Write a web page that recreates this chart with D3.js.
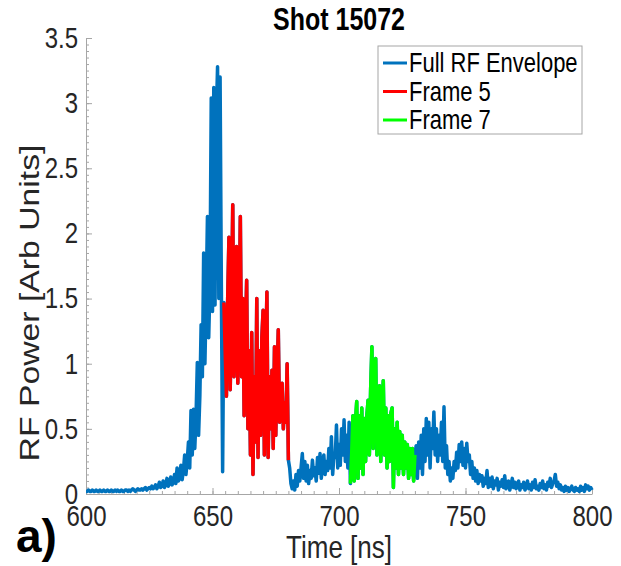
<!DOCTYPE html>
<html>
<head>
<meta charset="utf-8">
<script src="https://cdn.jsdelivr.net/npm/d3@7"></script>
<style>
  body { margin: 0; background: #fff; }
  text { font-family: "Liberation Sans", Arial, sans-serif; }
</style>
</head>
<body>
<div id="chart"></div>
<script>
// RF envelope, sampled every 0.5 ns from 600 ns
const timeStart = 600;
const timeStep = 0.5;
const power = [
  0.02, 0.02, 0.03, 0.02, 0.02, 0.03, 0.02, 0.02, 0.03, 0.02,
  0.02, 0.03, 0.02, 0.02, 0.03, 0.02, 0.02, 0.03, 0.02, 0.02,
  0.03, 0.02, 0.02, 0.03, 0.02, 0.03, 0.02, 0.02, 0.03, 0.02,
  0.02, 0.03, 0.03, 0.02, 0.03, 0.02, 0.03, 0.04, 0.03, 0.02,
  0.03, 0.04, 0.03, 0.03, 0.04, 0.03, 0.04, 0.05, 0.03, 0.04,
  0.05, 0.04, 0.06, 0.04, 0.05, 0.07, 0.04, 0.06, 0.09, 0.05,
  0.06, 0.10, 0.05, 0.07, 0.12, 0.06, 0.08, 0.13, 0.07, 0.09,
  0.15, 0.08, 0.20, 0.10, 0.12, 0.22, 0.11, 0.18, 0.30, 0.15,
  0.25, 0.40, 0.20, 0.64, 0.30, 0.65, 0.35, 0.60, 1.01, 0.45,
  0.75, 1.30, 0.90, 1.85, 1.00, 1.50, 2.13, 1.20, 1.60, 3.04,
  1.40, 3.12, 1.45, 2.90, 3.28, 1.50, 3.20, 1.60, 0.17, 1.47,
  1.10, 0.75, 1.50, 1.97, 0.80, 1.40, 2.22, 0.90, 1.20, 1.90,
  0.85, 1.30, 2.13, 0.90, 1.50, 0.60, 1.20, 1.64, 0.50, 1.10,
  0.30, 1.24, 0.15, 0.90, 0.40, 1.50, 0.28, 1.10, 0.45, 1.20,
  1.41, 0.30, 1.00, 1.55, 0.28, 0.90, 0.50, 0.95, 0.35, 1.13,
  0.45, 0.90, 1.26, 0.55, 0.60, 0.85, 0.50, 0.70, 0.55, 1.00,
  0.26, 0.20, 0.08, 0.04, 0.10, 0.03, 0.15, 0.06, 0.18, 0.10,
  0.20, 0.31, 0.12, 0.25, 0.10, 0.22, 0.08, 0.18, 0.12, 0.26,
  0.14, 0.20, 0.10, 0.28, 0.16, 0.31, 0.12, 0.22, 0.30, 0.15,
  0.25, 0.18, 0.35, 0.20, 0.44, 0.15, 0.30, 0.28, 0.53, 0.20,
  0.38, 0.22, 0.50, 0.30, 0.57, 0.25, 0.45, 0.20, 0.55, 0.08,
  0.30, 0.60, 0.10, 0.55, 0.71, 0.12, 0.60, 0.20, 0.66, 0.15,
  0.58, 0.25, 0.60, 0.72, 0.30, 0.80, 1.13, 0.35, 0.80, 1.04,
  0.30, 0.70, 0.83, 0.25, 0.60, 0.87, 0.30, 0.66, 0.20, 0.60,
  0.25, 0.62, 0.66, 0.05, 0.50, 0.20, 0.55, 0.15, 0.48, 0.20,
  0.45, 0.15, 0.40, 0.20, 0.38, 0.12, 0.35, 0.15, 0.35, 0.10,
  0.30, 0.37, 0.12, 0.40, 0.20, 0.45, 0.15, 0.50, 0.25, 0.58,
  0.30, 0.55, 0.20, 0.50, 0.35, 0.63, 0.30, 0.50, 0.25, 0.45,
  0.30, 0.55, 0.25, 0.67, 0.20, 0.37, 0.15, 0.25, 0.10, 0.20,
  0.12, 0.25, 0.18, 0.32, 0.20, 0.38, 0.25, 0.40, 0.22, 0.35,
  0.20, 0.39, 0.25, 0.30, 0.15, 0.25, 0.12, 0.20, 0.10, 0.18,
  0.08, 0.15, 0.10, 0.14, 0.06, 0.12, 0.08, 0.18, 0.05, 0.12,
  0.06, 0.13, 0.04, 0.10, 0.07, 0.12, 0.03, 0.09, 0.06, 0.11,
  0.05, 0.14, 0.04, 0.08, 0.10, 0.03, 0.07, 0.12, 0.05, 0.09,
  0.04, 0.08, 0.10, 0.03, 0.07, 0.05, 0.09, 0.03, 0.06, 0.10,
  0.04, 0.07, 0.03, 0.09, 0.05, 0.11, 0.04, 0.06, 0.03, 0.08,
  0.05, 0.10, 0.04, 0.07, 0.03, 0.09, 0.06, 0.12, 0.05, 0.08,
  0.10, 0.15, 0.06, 0.09, 0.04, 0.07, 0.03, 0.05, 0.02, 0.06,
  0.03, 0.05, 0.02, 0.04, 0.06, 0.03, 0.02, 0.05, 0.03, 0.04,
  0.02, 0.06, 0.03, 0.05, 0.02, 0.07, 0.04, 0.06, 0.03, 0.05,
  0.03
];

// camera frame windows [ns]
const frame5Window = [654.5, 680];
const frame7Window = [704.5, 730];

const seriesNames = ["Full RF Envelope", "Frame 5", "Frame 7"];
const seriesColors = ["#0072bd", "#ff0000", "#00ff00"];

const xTicks = [600, 650, 700, 750, 800];
const yTicks = [0, 0.5, 1, 1.5, 2, 2.5, 3, 3.5];

const width = 621,
  height = 566,
  margin = { top: 38, right: 29, bottom: 72, left: 86 };

// the source image is stretched vertically, so text is too
const stretch = 1.22;

const data = power.map((p, i) => ({ t: timeStart + i * timeStep, p: p }));

const x = d3.scaleLinear().domain([600, 800]).range([margin.left, width - margin.right]);
const y = d3.scaleLinear().domain([0, 3.5]).range([height - margin.bottom, margin.top]);

const svg = d3.select("#chart")
  .append("svg")
  .attr("width", width)
  .attr("height", height);

const axisColor = "#a6a6a6";
const textColor = "#262626";

// minor ticks
svg.append("g")
  .attr("transform", `translate(${margin.left},0)`)
  .call(d3.axisLeft(y).ticks(70).tickSizeInner(-3).tickSizeOuter(0).tickFormat(""))
  .call(g => g.select(".domain").remove())
  .call(g => g.selectAll("line").attr("stroke", axisColor));

svg.append("g")
  .attr("transform", `translate(0,${height - margin.bottom})`)
  .call(d3.axisBottom(x).ticks(40).tickSizeInner(-3).tickSizeOuter(0).tickFormat(""))
  .call(g => g.select(".domain").remove())
  .call(g => g.selectAll("line").attr("stroke", axisColor));

// major axes
const yAxis = svg.append("g")
  .attr("transform", `translate(${margin.left},0)`)
  .call(d3.axisLeft(y).tickValues(yTicks).tickFormat(d3.format("~g"))
    .tickSizeInner(-6).tickSizeOuter(0).tickPadding(8));

const xAxis = svg.append("g")
  .attr("transform", `translate(0,${height - margin.bottom})`)
  .call(d3.axisBottom(x).tickValues(xTicks).tickSizeInner(-6).tickSizeOuter(0).tickPadding(9));

[yAxis, xAxis].forEach(g => {
  g.select(".domain").attr("stroke", axisColor);
  g.selectAll("line").attr("stroke", axisColor);
  g.selectAll("text")
    .attr("fill", textColor)
    .attr("font-size", 24)
    .attr("font-family", "Liberation Sans, Arial, sans-serif")
    .attr("transform", `scale(1,${stretch})`);
});

// lines
const line = d3.line().x(d => x(d.t)).y(d => y(d.p));

svg.append("path")
  .datum(data)
  .attr("fill", "none")
  .attr("stroke", seriesColors[0])
  .attr("stroke-width", 3.5)
  .attr("stroke-linejoin", "round")
  .attr("d", line);

[frame5Window, frame7Window].forEach((w, i) => {
  svg.append("path")
    .datum(data.filter(d => d.t >= w[0] && d.t <= w[1]))
    .attr("fill", "none")
    .attr("stroke", seriesColors[i + 1])
    .attr("stroke-width", 3.5)
    .attr("stroke-linejoin", "round")
    .attr("d", line);
});

// title and axis labels
svg.append("text")
  .attr("transform", `translate(${(margin.left + width - margin.right) / 2},30) scale(1,${stretch})`)
  .attr("text-anchor", "middle")
  .attr("font-size", 25)
  .attr("font-weight", "bold")
  .attr("fill", "#000")
  .text("Shot 15072");

svg.append("text")
  .attr("transform", `translate(${(margin.left + width - margin.right) / 2},558) scale(1,${stretch})`)
  .attr("text-anchor", "middle")
  .attr("font-size", 26)
  .attr("fill", textColor)
  .text("Time [ns]");

svg.append("text")
  .attr("transform", `translate(39,303) rotate(-90) scale(${stretch + 0.03},1)`)
  .attr("text-anchor", "middle")
  .attr("font-size", 27)
  .attr("fill", textColor)
  .text("RF Power [Arb Units]");

svg.append("text")
  .attr("x", 16)
  .attr("y", 552)
  .attr("font-family", "Open Sans, sans-serif")
  .attr("font-size", 46)
  .attr("font-weight", "bold")
  .attr("fill", "#000")
  .text("a)");

// legend
const legend = svg.append("g").attr("transform", "translate(378,46)");
legend.append("rect")
  .attr("width", 204)
  .attr("height", 88)
  .attr("fill", "#fff")
  .attr("stroke", "#a6a6a6");

const rows = legend.selectAll("g.row")
  .data(seriesNames)
  .join("g")
  .attr("class", "row")
  .attr("transform", (d, i) => `translate(0,${17 + i * 28.5})`);

rows.append("line")
  .attr("x1", 5).attr("x2", 29)
  .attr("stroke", (d, i) => seriesColors[i])
  .attr("stroke-width", 3);

rows.append("text")
  .attr("x", 31)
  .attr("dy", "0.35em")
  .attr("font-size", 22)
  .attr("fill", "#000")
  .attr("transform", `scale(1,${stretch})`)
  .attr("transform-origin", "0 0")
  .text(d => d);
</script>
</body>
</html>
